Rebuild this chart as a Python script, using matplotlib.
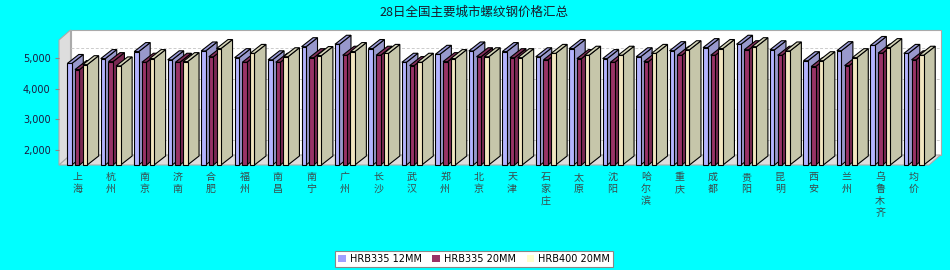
import numpy as np
import matplotlib
matplotlib.use('Agg')
import matplotlib.pyplot as plt
from matplotlib.patches import Polygon, Rectangle, Patch

# city labels and prices
cities = ['上海', '杭州', '南京', '济南', '合肥', '福州', '南昌', '南宁', '广州', '长沙',
          '武汉', '郑州', '北京', '天津', '石家庄', '太原', '沈阳', '哈尔滨', '重庆', '成都',
          '贵阳', '昆明', '西安', '兰州', '乌鲁木齐', '均价']
hrb335_12 = [4830, 4990, 5220, 4950, 5240, 5020, 4950, 5380, 5460, 5320,
             4870, 5130, 5240, 5220, 5050, 5320, 4990, 5050, 5250, 5350,
             5460, 5280, 4920, 5250, 5420, 5160]
hrb335_20 = [4630, 4890, 4870, 4870, 5050, 4870, 4870, 5020, 5100, 5100,
             4760, 4890, 5050, 5020, 4950, 4990, 4870, 4890, 5100, 5100,
             5280, 5100, 4730, 4760, 5170, 4950]
hrb400_20 = [4790, 4750, 4990, 4890, 5320, 5160, 5050, 5090, 5220, 5160,
             4870, 4990, 5050, 5020, 5160, 5100, 5100, 5160, 5280, 5320,
             5380, 5240, 4920, 5020, 5350, 5100]
series_names = ['HRB335 12MM', 'HRB335 20MM', 'HRB400 20MM']
yticks = [2000, 3000, 4000, 5000]

cjk = ['Noto Sans CJK SC', 'DejaVu Sans']
bg = '#00FFFF'

# (front, top, side) colours per series
styles = [('#B3B3FF', '#9C9CDA', '#9898CC'),
          ('#993366', '#86305C', '#7A2952'),
          ('#F2E6C0', '#D6D6BA', '#C6C6AA')]
legend_cols = ['#A0A0FF', '#993366', '#FFFFCC']

W, H = 950, 270
fig = plt.figure(figsize=(9.5, 2.7), dpi=100, facecolor=bg)
x0, x1, ytop, ybot = 59, 929, 40, 165
ax = fig.add_axes([x0 / W, 1 - ybot / H, (x1 - x0) / W, (ybot - ytop) / H])
ax.set_facecolor('none')
n = len(cities)
ymin, ymax = 1500, 5600
ax.set_xlim(-0.5, n - 0.5)
ax.set_ylim(ymin, ymax)
for s in ax.spines.values():
    s.set_visible(False)

# depth offset in data units
px_x = (x1 - x0) / n
px_y = (ybot - ytop) / (ymax - ymin)
dx = 11.5 / px_x
dy = 10 / px_y

# walls
L, R = -0.5, n - 0.5
ax.add_patch(Polygon([(L + dx, ymin + dy), (R + dx, ymin + dy), (R + dx, ymax + dy), (L + dx, ymax + dy)],
                     closed=True, facecolor='white', edgecolor='#AAAAAA', lw=0.8, clip_on=False, zorder=0))
ax.add_patch(Polygon([(L, ymin), (L + dx, ymin + dy), (L + dx, ymax + dy), (L, ymax)],
                     closed=True, facecolor='#DDDDDD', edgecolor='#AAAAAA', lw=0.8, clip_on=False, zorder=0.5))
ax.add_patch(Polygon([(L, ymin), (R, ymin), (R + dx, ymin + dy), (L + dx, ymin + dy)],
                     closed=True, facecolor='#DDDDDD', edgecolor='#AAAAAA', lw=0.8, clip_on=False, zorder=0.5))
for v in yticks:
    ax.plot([L + dx, R + dx], [v + dy, v + dy], color='#CCCCCC', lw=0.7, ls=(0, (3, 2)),
            clip_on=False, zorder=0.8)

offsets = [0.248, 0.478, 0.708]
bw = 0.134
z = 1
for i in range(n):
    for k, vals in enumerate([hrb335_12, hrb335_20, hrb400_20]):
        v = vals[i]
        xl = i - 0.5 + offsets[k]
        xr = xl + bw
        front, top, side = styles[k]
        ax.add_patch(Polygon([(xr, ymin), (xr + dx, ymin + dy * 0.9), (xr + dx, v + dy * 0.9), (xr, v)],
                             closed=True, facecolor=side, edgecolor='black', lw=0.8,
                             clip_on=False, zorder=z))
        ax.add_patch(Polygon([(xl, v), (xr, v), (xr + dx, v + dy * 0.9), (xl + dx, v + dy * 0.9)],
                             closed=True, facecolor=top, edgecolor='black', lw=0.8,
                             clip_on=False, zorder=z))
        ax.add_patch(Rectangle((xl, ymin), bw, v - ymin, facecolor=front, edgecolor='black',
                               lw=0.8, clip_on=False, zorder=z + 0.5))
        z += 1

ax.set_yticks(yticks)
ax.set_yticklabels(['{:,}'.format(v) for v in yticks], fontsize=7, color='#1a1a40')
ax.tick_params(axis='y', length=3, width=0.8, color='#888888', pad=3)
ax.set_xticks(np.arange(n) + 0.04)
ax.set_xticklabels(['\n'.join(c) for c in cities], family=cjk, fontsize=7.2,
                   color='#3a4a4a', linespacing=1.25, va='top')
ax.tick_params(axis='x', length=0, pad=5)

fig.text(474 / W, 1 - 12 / H, '28日全国主要城市螺纹钢价格汇总', family=cjk, fontsize=9,
         color='#1a1a2a', ha='center', va='center')

handles = [Patch(facecolor=c, edgecolor='none') for c in legend_cols]
leg = fig.legend(handles, series_names, loc='center', bbox_to_anchor=(474 / W, 1 - 259 / H),
                 ncol=3, fontsize=7, frameon=True, fancybox=False, edgecolor='#888888',
                 framealpha=1, handlelength=0.8, handleheight=0.8, handletextpad=0.4,
                 columnspacing=1.1, borderpad=0.3, borderaxespad=0)
leg.get_frame().set_linewidth(0.8)

fig.savefig('out.png', dpi=100, facecolor=bg)
